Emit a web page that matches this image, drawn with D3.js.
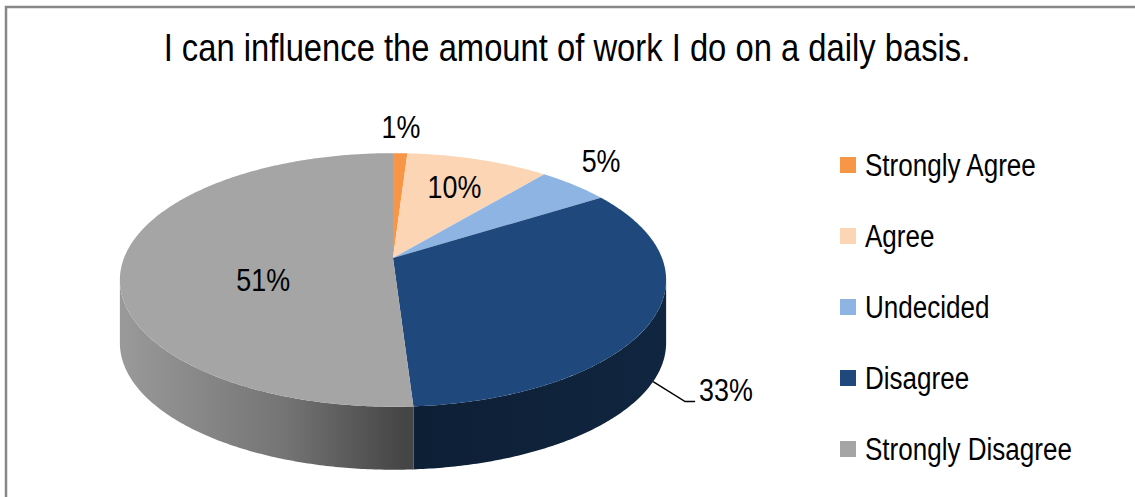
<!DOCTYPE html>
<html>
<head>
<meta charset="utf-8">
<script src="https://cdn.jsdelivr.net/npm/d3@7"></script>
<style>
  body { margin: 0; background: #fff; }
  text { font-family: "Liberation Sans Narrow", "Arial Narrow", "Liberation Sans", sans-serif; fill: #000; }
</style>
</head>
<body>
<div id="viz"></div>
<script>
var width = 1135
var height = 497

// data
var title = "I can influence the amount of work I do on a daily basis."
var categories = ["Strongly Agree", "Agree", "Undecided", "Disagree", "Strongly Disagree"]
var values = [1, 10, 5, 33, 51]
var colors = ["#F79646", "#FCD5B5", "#8DB4E2", "#1F497D", "#A5A5A5"]

// pie geometry (3D with a bit of perspective, like Excel)
var cx = 393, cy = 258
var rx = 269, ry = 123
var persp = 0.173
var depth = 63

// the original font is a narrow one, squeeze the regular one to match
var squeeze = 0.84

// where each label goes: inside on the top face, or outside
var labelPlace = [
  { kind: "out", dist: 26 },
  { kind: "in", r: 0.72, dy: 0 },
  { kind: "out", dist: 36 },
  { kind: "leader" },
  { kind: "in", r: 0.48, dy: 20 }
]

var svg = d3.select("#viz")
  .append("svg")
  .attr("width", width)
  .attr("height", height)

function narrow(sel) {
  sel.each(function() {
    var w = this.getComputedTextLength()
    d3.select(this)
      .attr("textLength", w * squeeze)
      .attr("lengthAdjust", "spacingAndGlyphs")
  })
}

// chart border
svg.append("rect")
  .attr("x", 6)
  .attr("y", 7)
  .attr("width", width + 10)
  .attr("height", height + 10)
  .attr("fill", "none")
  .attr("stroke", "#878787")
  .attr("stroke-width", 2.5)

svg.append("text")
  .attr("x", 567)
  .attr("y", 61)
  .attr("text-anchor", "middle")
  .style("font-size", "39px")
  .text(title)
  .call(narrow)

function proj(a, f, dy) {
  f = f == null ? 1 : f
  var d = 1 + persp * Math.cos(a)
  return [cx + f * rx * Math.sin(a) / d, cy - f * ry * Math.cos(a) / d + (dy || 0)]
}

function arcPoints(a0, a1, dy) {
  var n = Math.max(2, Math.ceil(Math.abs(a1 - a0) / 0.01))
  return d3.range(n + 1).map(function(i) { return proj(a0 + (a1 - a0) * i / n, 1, dy) })
}

var line = d3.line()
var pie = d3.pie().sort(null).value(function(d) { return d })
var arcs = pie(values)

// visible side runs from the rightmost to the leftmost point of the rim
var sideStart = Math.acos(-persp)
var sideEnd = 2 * Math.PI - sideStart

var defs = svg.append("defs")
colors.forEach(function(c, i) {
  var g = defs.append("linearGradient")
    .attr("id", "side" + i)
    .attr("gradientUnits", "userSpaceOnUse")
    .attr("x1", cx - rx).attr("x2", cx + rx)
    .attr("y1", 0).attr("y2", 0)
  var stops = [[0, 0.07], [0.3, 0.3], [0.52, 0.58], [1, 0.5]]
  stops.forEach(function(s) {
    g.append("stop")
      .attr("offset", s[0])
      .attr("stop-color", d3.interpolateRgb(c, "#000")(s[1]))
  })
})

// side faces
var gSide = svg.append("g")
arcs.forEach(function(d, i) {
  var a0 = Math.max(d.startAngle, sideStart)
  var a1 = Math.min(d.endAngle, sideEnd)
  if (a0 >= a1) return
  var pts = arcPoints(a0, a1, 0).concat(arcPoints(a1, a0, depth))
  gSide.append("path")
    .attr("d", line(pts) + "Z")
    .attr("fill", "url(#side" + i + ")")
})

// top faces
var gTop = svg.append("g")
arcs.forEach(function(d, i) {
  var pts = [[cx, cy]].concat(arcPoints(d.startAngle, d.endAngle, 0))
  gTop.append("path")
    .attr("d", line(pts) + "Z")
    .attr("fill", colors[i])
})

// data labels
var gLab = svg.append("g").style("font-size", "32px")
arcs.forEach(function(d, i) {
  var mid = (d.startAngle + d.endAngle) / 2
  var txt = Math.round(values[i] / d3.sum(values) * 100) + "%"
  var p = labelPlace[i]
  if (p.kind == "in") {
    var q = proj(mid, p.r, p.dy)
    gLab.append("text").attr("x", q[0]).attr("y", q[1])
      .attr("text-anchor", "middle").attr("dy", "0.35em").text(txt)
  } else if (p.kind == "out") {
    var q = proj(mid, 1, 0)
    var x = q[0] + p.dist * Math.sin(mid), y = q[1] - p.dist * Math.cos(mid)
    gLab.append("text").attr("x", x).attr("y", y)
      .attr("text-anchor", "middle").attr("dy", "0.35em").text(txt)
  } else {
    var q = proj(mid, 1, depth)
    var elbow = [q[0] + 32, q[1] + 20]
    var end = [elbow[0] + 10, elbow[1]]
    svg.append("path")
      .attr("d", line([q, elbow, end]))
      .attr("fill", "none")
      .attr("stroke", "#000")
      .attr("stroke-width", 1.5)
    gLab.append("text").attr("x", end[0] + 4).attr("y", end[1] - 1)
      .text(txt)
  }
})
gLab.selectAll("text").call(narrow)

// legend
var legend = svg.append("g")
  .attr("transform", "translate(840, 165)")
  .selectAll("g")
  .data(categories)
  .enter().append("g")
    .attr("transform", function(d, i) { return "translate(0," + i * 71 + ")" })

legend.append("rect")
  .attr("x", 0).attr("y", -8)
  .attr("width", 16).attr("height", 16)
  .attr("fill", function(d, i) { return colors[i] })

legend.append("text")
  .attr("x", 25)
  .attr("dy", "0.35em")
  .style("font-size", "31px")
  .text(function(d) { return d })
  .call(narrow)
</script>
</body>
</html>
